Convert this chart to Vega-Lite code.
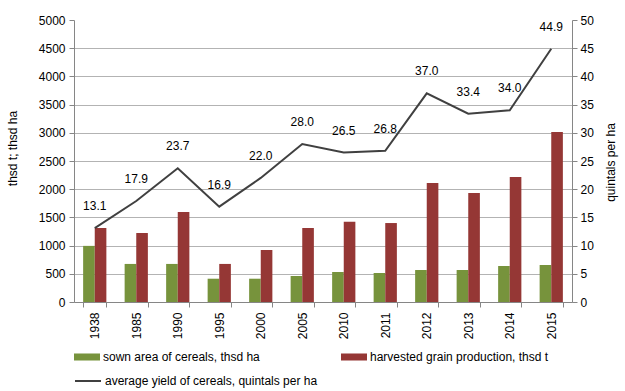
{
  "$schema": "https://vega.github.io/schema/vega-lite/v6.json",
  "width": 498,
  "height": 282,
  "autosize": {"type": "none"},
  "padding": {"left": 74, "top": 20, "right": 53, "bottom": 89},
  "background": "white",
  "config": {
    "view": {"stroke": null},
    "font": "Liberation Sans",
    "axis": {"labelFont": "Liberation Sans", "titleFont": "Liberation Sans", "labelFontSize": 12, "titleFontSize": 12, "titleFontWeight": "normal", "labelColor": "#000000", "titleColor": "#000000", "domainColor": "#868686", "tickColor": "#868686", "gridColor": "#b3b3b3", "tickSize": 5, "labelOverlap": false}
  },
  "datasets": {
    "bars": [
      {"year": "1938", "series": "sown area of cereals, thsd ha", "value": 995},
      {"year": "1938", "series": "harvested grain production, thsd t", "value": 1312},
      {"year": "1985", "series": "sown area of cereals, thsd ha", "value": 675},
      {"year": "1985", "series": "harvested grain production, thsd t", "value": 1223},
      {"year": "1990", "series": "sown area of cereals, thsd ha", "value": 675},
      {"year": "1990", "series": "harvested grain production, thsd t", "value": 1596},
      {"year": "1995", "series": "sown area of cereals, thsd ha", "value": 413},
      {"year": "1995", "series": "harvested grain production, thsd t", "value": 675},
      {"year": "2000", "series": "sown area of cereals, thsd ha", "value": 413},
      {"year": "2000", "series": "harvested grain production, thsd t", "value": 922},
      {"year": "2005", "series": "sown area of cereals, thsd ha", "value": 461},
      {"year": "2005", "series": "harvested grain production, thsd t", "value": 1312},
      {"year": "2010", "series": "sown area of cereals, thsd ha", "value": 532},
      {"year": "2010", "series": "harvested grain production, thsd t", "value": 1424},
      {"year": "2011", "series": "sown area of cereals, thsd ha", "value": 514},
      {"year": "2011", "series": "harvested grain production, thsd t", "value": 1400},
      {"year": "2012", "series": "sown area of cereals, thsd ha", "value": 567},
      {"year": "2012", "series": "harvested grain production, thsd t", "value": 2110},
      {"year": "2013", "series": "sown area of cereals, thsd ha", "value": 567},
      {"year": "2013", "series": "harvested grain production, thsd t", "value": 1933},
      {"year": "2014", "series": "sown area of cereals, thsd ha", "value": 638},
      {"year": "2014", "series": "harvested grain production, thsd t", "value": 2216},
      {"year": "2015", "series": "sown area of cereals, thsd ha", "value": 656},
      {"year": "2015", "series": "harvested grain production, thsd t", "value": 3014}
    ],
    "yield": [
      {"year": "1938", "yield": 13.1},
      {"year": "1985", "yield": 17.9},
      {"year": "1990", "yield": 23.7},
      {"year": "1995", "yield": 16.9},
      {"year": "2000", "yield": 22.0},
      {"year": "2005", "yield": 28.0},
      {"year": "2010", "yield": 26.5},
      {"year": "2011", "yield": 26.8},
      {"year": "2012", "yield": 37.0},
      {"year": "2013", "yield": 33.4},
      {"year": "2014", "yield": 34.0},
      {"year": "2015", "yield": 44.9}
    ]
  },
  "encoding": {
    "x": {
      "field": "year", "type": "nominal", "title": null,
      "scale": {"paddingInner": 0.44, "paddingOuter": 0.22},
      "axis": {"labelAngle": 270, "labelAlign": "right", "labelBaseline": "middle", "labelPadding": 5, "tickBand": "extent", "grid": false}
    }
  },
  "layer": [
    {
      "data": {"name": "bars"},
      "mark": {"type": "bar"},
      "encoding": {
        "xOffset": {"field": "series", "type": "nominal", "sort": ["sown area of cereals, thsd ha", "harvested grain production, thsd t"], "scale": {"paddingInner": 0, "paddingOuter": 0}},
        "y": {
          "field": "value", "type": "quantitative",
          "scale": {"domain": [0, 5000], "nice": false},
          "axis": {"title": "thsd t; thsd ha", "format": "d", "values": [0,500,1000,1500,2000,2500,3000,3500,4000,4500,5000], "labelPadding": 4, "grid": true, "gridOpacity": {"condition": {"test": "datum.value == 5000", "value": 0}, "value": 1}, "titleAngle": 270, "titleX": -62, "titleY": 128, "titleAlign": "center", "titleBaseline": "middle"}
        },
        "fill": {
          "field": "series", "type": "nominal",
          "scale": {"domain": ["sown area of cereals, thsd ha", "harvested grain production, thsd t"], "range": ["#77933C", "#953735"]},
          "legend": {"title": null, "orient": "none", "legendX": 0, "legendY": 324, "direction": "horizontal", "columns": 2, "columnPadding": 81, "symbolType": "M-1,-0.27H1V0.27H-1Z", "symbolSize": 676, "symbolStrokeWidth": 0, "labelFont": "Liberation Sans", "labelFontSize": 12, "labelColor": "#000000", "labelOffset": 3, "labelLimit": 300}
        }
      }
    },
    {
      "data": {"name": "yield"},
      "encoding": {
        "y": {
          "field": "yield", "type": "quantitative",
          "scale": {"domain": [0, 50], "nice": false},
          "axis": {"orient": "right", "title": "quintals per ha", "format": "d", "values": [0,5,10,15,20,25,30,35,40,45,50], "tickCount": 11, "labelOverlap": false, "labelPadding": 3, "grid": false, "titleAngle": 270, "titleX": 38, "titleY": 142, "titleAlign": "center", "titleBaseline": "middle"}
        }
      },
      "layer": [
        {
          "mark": {"type": "line", "strokeWidth": 2},
          "encoding": {
            "stroke": {
              "datum": "average yield of cereals, quintals per ha",
              "scale": {"range": ["#404040"]},
              "legend": {"title": null, "orient": "none", "legendX": 0, "legendY": 347, "symbolType": "stroke", "symbolSize": 676, "symbolStrokeWidth": 2, "labelFont": "Liberation Sans", "labelFontSize": 12, "labelColor": "#000000", "labelOffset": 3, "labelLimit": 300}
            }
          }
        },
        {
          "mark": {"type": "text", "dy": -22, "fontSize": 12, "font": "Liberation Sans", "color": "#000000"},
          "encoding": {
            "text": {"field": "yield", "type": "quantitative", "format": ".1f"}
          }
        }
      ]
    }
  ],
  "resolve": {"scale": {"y": "independent"}}
}
